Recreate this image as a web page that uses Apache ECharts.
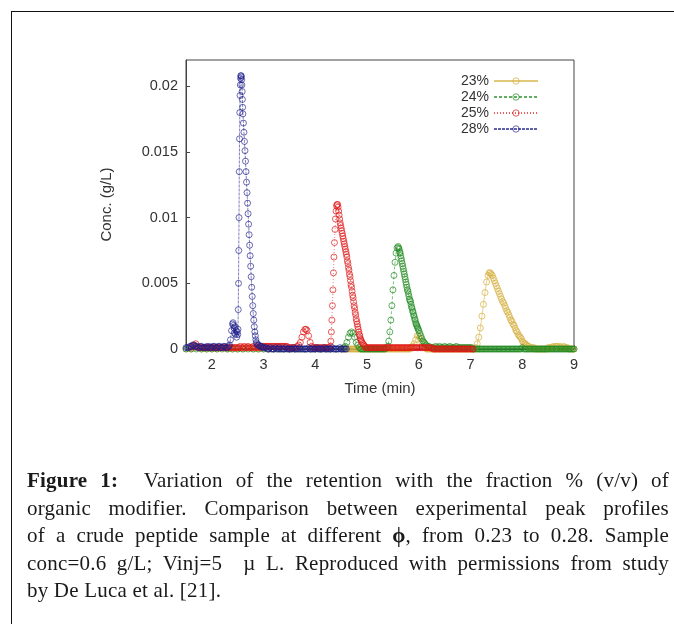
<!DOCTYPE html>
<html>
<head>
<meta charset="utf-8">
<script src="https://cdn.jsdelivr.net/npm/echarts@6/dist/echarts.min.js"></script>
<style>
  html, body { margin: 0; padding: 0; width: 674px; height: 624px; overflow: hidden; background: #fff; }
  #frame { position: absolute; left: 11px; top: 11px; width: 720px; height: 700px; border: 1.5px solid #111; box-sizing: border-box; }
  #chart { position: absolute; left: 0; top: 0; width: 674px; height: 624px; }
  #caption { position: absolute; left: 27px; top: 467px; width: 642px; font-family: "Liberation Serif", "DejaVu Serif", serif; font-size: 21px; line-height: 27.5px; color: #1a1a1a; letter-spacing: 0.2px; }
  #caption span { display: block; text-align: justify; text-align-last: justify; white-space: nowrap; }
  #caption span.last { text-align: left; text-align-last: left; }
</style>
</head>
<body>
<div id="frame"></div>
<div id="chart"></div>
<div id="caption">
  <span><b>Figure 1:</b>&nbsp; Variation of the retention with the fraction % (v/v) of</span>
  <span>organic modifier. Comparison between experimental peak profiles</span>
  <span>of a crude peptide sample at different <b>ϕ</b>, from 0.23 to 0.28. Sample</span>
  <span>conc=0.6 g/L; Vinj=5 &nbsp;µ L. Reproduced with permissions from study</span>
  <span class="last">by De Luca et al. [21].</span>
</div>
<script>
const seriesNames = ['23%', '24%', '25%', '28%'];
const xTicks = [2, 3, 4, 5, 6, 7, 8, 9];
const yTicks = [0, 0.005, 0.01, 0.015, 0.02];

// [time (min), conc (g/L)]
const conc23 = [
[1.5,0],[1.6,0],[1.7,0.0001],[1.8,0],[1.9,0],[2.0,0],[2.1,0],[2.2,0.0001],[2.3,0],[2.4,0],[2.5,0],[2.6,0],[2.7,0.0001],[2.8,0],[2.9,0],[3.0,0],[3.1,0],[3.2,0],[3.3,0],[3.4,0],[3.5,0],[3.6,0],[3.7,0],[3.8,0],[3.9,0],[4.0,0],[4.1,0],[4.2,0],[4.3,0],[4.4,0],[4.5,0],
[4.550,0],[4.575,0],[4.600,0],[4.625,0],[4.650,0],[4.675,0],[4.700,0],[4.725,0],[4.750,0],[4.775,0],
[4.800,0],[4.825,0],[4.850,0],[4.875,0],[4.900,0],[4.925,0],[4.950,0],[4.975,0],[5.000,0],[5.025,0],
[5.050,0],[5.075,0],[5.100,0],[5.125,0],[5.150,0],[5.175,0],[5.200,0],[5.225,0],[5.250,0],[5.275,0],
[5.300,0],[5.325,0],[5.350,0],[5.375,0],[5.400,0],[5.425,0],[5.450,0],[5.475,0],[5.500,0],[5.525,0],
[5.550,0],[5.575,0],[5.600,0],[5.625,0],[5.650,0],[5.675,0],[5.700,0],[5.725,0],[5.750,0],[5.775,0],
[5.800,0],[5.825,0],[5.850,0.0001],
[5.88,0.0002],[5.91,0.0004],[5.94,0.0007],[5.97,0.0010],[6.00,0.0010],[6.03,0.0008],[6.06,0.0005],[6.09,0.0002],[6.12,0.0001],
[6.150,0],[6.175,0],[6.200,0],[6.225,0],[6.250,0],[6.275,0],[6.300,0],[6.325,0],[6.350,0],[6.375,0],
[6.400,0],[6.425,0],[6.450,0],[6.475,0],[6.500,0],[6.525,0],[6.550,0],[6.575,0],[6.600,0],[6.625,0],
[6.650,0],[6.675,0],[6.700,0],[6.725,0],[6.750,0],[6.775,0],[6.800,0],[6.825,0],[6.850,0],[6.875,0],
[6.900,0],[6.925,0],[6.950,0],[6.975,0],[7.000,0],[7.025,0],[7.050,0],[7.075,0],
[7.10,0.0001],[7.13,0.0004],[7.16,0.0009],[7.19,0.0016],[7.22,0.0025],[7.25,0.0034],[7.28,0.0043],[7.31,0.0051],[7.34,0.0056],[7.36,0.0058],[7.38,0.0058],
[7.40,0.0057],[7.42,0.0056],[7.44,0.0054],[7.46,0.0052],[7.48,0.0050],[7.50,0.0048],[7.52,0.0046],[7.54,0.0044],[7.56,0.0042],[7.58,0.0040],[7.60,0.0038],[7.62,0.0036],[7.64,0.0035],[7.66,0.0033],[7.68,0.0031],[7.70,0.0029],[7.72,0.0028],[7.74,0.0026],[7.76,0.0024],[7.78,0.0022],[7.80,0.0021],[7.82,0.0019],[7.84,0.0018],[7.86,0.0016],[7.88,0.0014],[7.90,0.0013],[7.92,0.0011],[7.94,0.0010],[7.96,0.0009],[7.98,0.0008],[8.00,0.0006],[8.02,0.0005],[8.04,0.0004],[8.06,0.0004],[8.08,0.0003],[8.10,0.0002],[8.13,0.0002],[8.16,0.0001],[8.20,0.0001],
[8.225,0.0001],[8.250,0],[8.275,0],[8.300,0],[8.325,0],[8.350,0],[8.375,0],[8.400,0],[8.425,0],[8.450,0],
[8.475,0],[8.500,0.0001],[8.525,0.0001],[8.550,0.0001],[8.575,0.0001],[8.600,0.0002],[8.625,0.0001],[8.650,0.0002],[8.675,0.0002],[8.700,0.0001],
[8.725,0.0002],[8.750,0.0001],[8.775,0.0001],[8.800,0.0002],[8.825,0.0001],[8.850,0.0001],[8.875,0.0001],[8.900,0],[8.925,0],[8.950,0],
[8.975,0],[9.000,0]
];

const conc24 = [
[1.5,0],[1.6,0],[1.7,0],[1.8,0],[1.9,0],[2.0,0],[2.1,0],[2.2,0],[2.3,0],[2.4,0],[2.5,0],[2.6,0],[2.7,0],[2.8,0],[2.9,0],[3.0,0],[3.1,0],[3.2,0],[3.3,0],[3.4,0],[3.5,0],[3.6,0],[3.7,0],[3.8,0],[3.9,0],[4.0,0],[4.1,0],[4.2,0],[4.3,0],[4.4,0],[4.5,0],[4.55,0.0001],
[4.58,0.0002],[4.61,0.0005],[4.64,0.0009],[4.67,0.0012],[4.70,0.0013],[4.73,0.0012],[4.76,0.0009],[4.79,0.0005],[4.82,0.0003],[4.85,0.0001],
[4.875,0],[4.900,0],[4.925,0],[4.950,0],[4.975,0],[5.000,0],[5.025,0],[5.050,0],[5.075,0],[5.100,0],[5.125,0],[5.150,0],[5.175,0],[5.200,0],[5.225,0],[5.250,0],[5.275,0],[5.300,0],[5.325,0],[5.350,0],[5.375,0.0001],
[5.40,0.0002],[5.42,0.0006],[5.44,0.0013],[5.46,0.0022],[5.48,0.0033],[5.50,0.0045],[5.52,0.0056],[5.54,0.0066],[5.56,0.0073],[5.58,0.0077],[5.60,0.0078],[5.61,0.0077],[5.62,0.0076],
[5.63,0.0074],[5.64,0.0073],[5.65,0.0071],[5.66,0.0069],[5.67,0.0067],[5.68,0.0065],[5.69,0.0063],[5.70,0.0061],[5.71,0.0059],[5.72,0.0057],[5.73,0.0055],[5.74,0.0053],[5.75,0.0051],[5.76,0.0049],[5.77,0.0047],[5.78,0.0045],[5.79,0.0044],[5.80,0.0042],[5.81,0.0040],[5.82,0.0038],[5.83,0.0037],[5.84,0.0036],[5.85,0.0034],[5.86,0.0032],[5.87,0.0031],[5.88,0.0029],[5.89,0.0028],[5.90,0.0026],[5.91,0.0025],[5.92,0.0023],[5.93,0.0022],[5.94,0.0020],[5.95,0.0019],[5.96,0.0018],[5.97,0.0017],[5.98,0.0016],[5.99,0.0015],[6.00,0.0014],[6.02,0.0012],[6.04,0.0010],[6.06,0.0008],[6.08,0.0006],[6.10,0.0005],[6.12,0.0004],[6.14,0.0003],[6.17,0.0002],[6.20,0.0002],[6.24,0.0001],
[6.275,0.0001],[6.300,0.0001],[6.325,0.0002],[6.350,0.0001],[6.375,0.0001],[6.400,0.0002],[6.425,0.0001],[6.450,0.0001],[6.475,0.0001],[6.500,0.0002],
[6.525,0.0001],[6.550,0.0001],[6.575,0.0001],[6.600,0.0002],[6.625,0.0001],[6.650,0.0001],[6.675,0.0001],[6.700,0.0001],[6.725,0.0002],[6.750,0.0001],
[6.775,0.0001],[6.800,0.0001],[6.825,0.0001],[6.850,0.0001],[6.875,0.0001],[6.900,0.0001],[6.925,0.0001],[6.950,0.0001],[6.975,0.0001],[7.000,0.0001],
[7.025,0.0001],[7.050,0],[7.075,0],[7.100,0],[7.125,0],[7.150,0],[7.175,0],[7.200,0],[7.225,0],[7.250,0],
[7.275,0],[7.300,0],[7.325,0],[7.350,0],[7.375,0],[7.400,0],[7.425,0],[7.450,0],[7.475,0],[7.500,0],
[7.525,0],[7.550,0],[7.575,0],[7.600,0],[7.625,0],[7.650,0],[7.675,0],[7.700,0],[7.725,0],[7.750,0],
[7.775,0],[7.800,0],[7.825,0],[7.850,0],[7.875,0],[7.900,0],[7.925,0],[7.950,0],[7.975,0],[8.000,0.0001],
[8.025,0],[8.050,0],[8.075,0],[8.100,0],[8.125,0],[8.150,0],[8.175,0],[8.200,0],[8.225,0],[8.250,0],
[8.275,0],[8.300,0],[8.325,0],[8.350,0],[8.375,0],[8.400,0],[8.425,0],[8.450,0],[8.475,0],[8.500,0],
[8.525,0],[8.550,0],[8.575,0],[8.600,0],[8.625,0],[8.650,0],[8.675,0],[8.700,0],[8.725,0],[8.750,0],
[8.775,0],[8.800,0],[8.825,0],[8.850,0],[8.875,0],[8.900,0],[8.925,0],[8.950,0],[8.975,0],[9.000,0]
];

const conc25 = [
[1.60,0.0001],[1.63,0.0002],[1.66,0.0003],[1.69,0.0004],[1.72,0.0002],[1.75,0.0001],
[1.775,0.0001],[1.800,0.0001],[1.825,0.0001],[1.850,0.0001],[1.875,0.0001],[1.900,0.0001],[1.925,0.0001],[1.950,0.0001],[1.975,0.0001],[2.000,0.0001],
[2.025,0.0001],[2.050,0.0001],[2.075,0.0001],[2.100,0.0001],[2.125,0.0001],[2.150,0.0001],[2.175,0.0001],[2.200,0.0001],[2.225,0.0001],[2.250,0.0001],
[2.275,0.0001],[2.300,0.0001],[2.325,0.0001],[2.350,0.0001],[2.375,0.0001],[2.400,0.0001],[2.425,0.0001],[2.450,0.0001],[2.475,0.0001],[2.500,0.0001],
[2.525,0.0001],[2.550,0.0002],[2.575,0.0001],[2.600,0.0001],[2.625,0.0002],[2.650,0.0001],[2.675,0.0001],[2.700,0.0002],[2.725,0.0001],[2.750,0.0001],
[2.775,0.0001],[2.800,0.0002],[2.825,0.0001],[2.850,0.0001],[2.875,0.0002],[2.900,0.0001],[2.925,0.0001],[2.950,0.0002],[2.975,0.0002],[3.000,0.0002],
[3.025,0.0002],[3.050,0.0002],[3.075,0.0002],[3.100,0.0002],[3.125,0.0002],[3.150,0.0002],[3.175,0.0002],[3.200,0.0002],[3.225,0.0002],[3.250,0.0002],
[3.275,0.0002],[3.300,0.0002],[3.325,0.0002],[3.350,0.0002],[3.375,0.0002],[3.400,0.0002],[3.425,0.0002],[3.450,0.0002],[3.475,0.0001],[3.500,0.0001],
[3.525,0.0001],[3.550,0.0001],[3.575,0.0001],[3.600,0.0001],[3.625,0.0001],[3.650,0.0002],
[3.68,0.0003],[3.71,0.0005],[3.74,0.0009],[3.77,0.0013],[3.80,0.0015],[3.82,0.0015],[3.84,0.0014],[3.87,0.0010],[3.90,0.0005],[3.93,0.0002],[3.95,0.0001],
[3.975,0.0001],[4.000,0.0001],[4.025,0.0001],[4.050,0.0001],[4.075,0.0001],[4.100,0.0001],[4.125,0.0001],[4.150,0.0001],[4.175,0.0001],[4.200,0.0001],[4.225,0.0001],[4.250,0.0001],[4.275,0.0001],
[4.29,0.0002],[4.30,0.0006],[4.31,0.0013],[4.32,0.0022],[4.33,0.0033],[4.34,0.0045],[4.35,0.0058],[4.36,0.0070],[4.37,0.0081],[4.38,0.0091],[4.39,0.0099],[4.40,0.0105],[4.41,0.0109],[4.42,0.0110],[4.43,0.0110],[4.44,0.0108],[4.45,0.0105],[4.46,0.0102],[4.47,0.0099],[4.48,0.0096],[4.49,0.0094],[4.50,0.0092],[4.51,0.0090],[4.52,0.0088],[4.53,0.0086],[4.54,0.0084],[4.55,0.0082],[4.56,0.0080],[4.57,0.0078],[4.58,0.0076],[4.59,0.0074],[4.60,0.0072],[4.61,0.0070],[4.62,0.0067],[4.63,0.0065],[4.64,0.0062],[4.65,0.0060],[4.66,0.0057],[4.67,0.0055],[4.68,0.0052],[4.69,0.0049],[4.70,0.0047],[4.71,0.0044],[4.72,0.0041],[4.73,0.0039],[4.74,0.0036],[4.75,0.0033],[4.76,0.0031],[4.77,0.0028],[4.78,0.0026],[4.79,0.0023],[4.80,0.0021],[4.81,0.0019],[4.82,0.0017],[4.83,0.0015],[4.84,0.0013],[4.85,0.0011],[4.86,0.0010],[4.87,0.0008],[4.88,0.0007],[4.89,0.0006],[4.90,0.0005],[4.92,0.0004],[4.94,0.0003],[4.96,0.0002],[4.98,0.0001],
[5.000,0.0001],[5.025,0.0001],[5.050,0.0001],[5.075,0.0001],[5.100,0.0001],[5.125,0.0001],[5.150,0.0001],[5.175,0.0001],[5.200,0.0001],[5.225,0.0001],
[5.250,0.0001],[5.275,0.0001],[5.300,0.0001],[5.325,0.0001],[5.350,0.0001],[5.375,0.0001],[5.400,0.0001],[5.425,0.0001],[5.450,0.0001],[5.475,0.0001],
[5.500,0.0001],[5.525,0.0001],[5.550,0.0001],[5.575,0.0001],[5.600,0.0001],[5.625,0.0001],[5.650,0.0001],[5.675,0.0001],[5.700,0.0001],[5.725,0.0001],
[5.750,0.0001],[5.775,0.0001],[5.800,0.0001],[5.825,0.0001],[5.850,0.0001],[5.875,0.0001],[5.900,0.0001],[5.925,0.0001],[5.950,0.0001],[5.975,0.0001],
[6.000,0.0001],[6.025,0.0001],[6.050,0.0001],[6.075,0.0001],[6.100,0.0001],[6.125,0.0001],[6.150,0.0001],[6.175,0.0001],[6.200,0.0001],[6.225,0.0001],
[6.250,0.0001],[6.275,0],[6.300,0],[6.325,0],[6.350,0],[6.375,0],[6.400,0],[6.425,0],[6.450,0],[6.475,0],
[6.500,0],[6.525,0],[6.550,0],[6.575,0],[6.600,0],[6.625,0],[6.650,0],[6.675,0],[6.700,0],[6.725,0],
[6.750,0],[6.775,0],[6.800,0],[6.825,0],[6.850,0],[6.875,0],[6.900,0],[6.925,0],[6.950,0],[6.975,0],
[7.000,0],[7.025,0],[7.050,0]
];

const conc28 = [
[1.500,0.0001],[1.525,0.0001],[1.550,0.0001],[1.575,0.0002],[1.600,0.0002],[1.625,0.0003],[1.650,0.0003],[1.675,0.0002],[1.700,0.0002],[1.725,0.0001],
[1.750,0.0001],[1.775,0.0002],[1.800,0.0002],[1.825,0.0001],[1.850,0.0001],[1.875,0.0001],[1.900,0.0002],[1.925,0.0001],[1.950,0.0002],[1.975,0.0001],
[2.000,0.0001],[2.025,0.0002],[2.050,0.0002],[2.075,0.0001],[2.100,0.0001],[2.125,0.0002],[2.150,0.0002],[2.175,0.0001],[2.200,0.0001],[2.225,0.0002],
[2.250,0.0002],[2.275,0.0001],[2.300,0.0001],[2.325,0.0002],[2.340,0.0003],
[2.36,0.0007],[2.38,0.0014],[2.40,0.0019],[2.41,0.0020],[2.42,0.0018],[2.43,0.0016],[2.44,0.0012],[2.45,0.0017],[2.46,0.0011],[2.47,0.0014],[2.48,0.0009],[2.49,0.0013],[2.50,0.0011],
[2.505,0.0015],[2.510,0.0030],[2.515,0.0050],[2.520,0.0075],[2.525,0.0100],[2.530,0.0135],[2.535,0.0160],[2.540,0.0180],[2.545,0.0193],[2.550,0.0201],[2.555,0.0206],[2.560,0.0208],[2.565,0.0208],[2.570,0.0207],[2.575,0.0205],[2.580,0.0201],[2.585,0.0196],[2.590,0.0190],[2.595,0.0184],
[2.60,0.0179],[2.61,0.0172],[2.62,0.0165],[2.63,0.0158],[2.64,0.0151],[2.65,0.0143],[2.66,0.0135],[2.67,0.0127],[2.68,0.0119],[2.69,0.0111],[2.70,0.0103],[2.71,0.0095],[2.72,0.0087],[2.73,0.0079],[2.74,0.0071],[2.75,0.0063],[2.76,0.0055],[2.77,0.0047],[2.78,0.0040],[2.79,0.0033],[2.80,0.0027],[2.81,0.0022],[2.82,0.0017],[2.83,0.0013],[2.84,0.0010],[2.85,0.0007],[2.86,0.0005],[2.87,0.0004],[2.89,0.0003],[2.91,0.0003],[2.93,0.0002],[2.96,0.0002],[2.98,0.0001],
[3.000,0.0001],[3.025,0.0001],[3.050,0.0001],[3.075,0],[3.100,0],[3.125,0.0001],[3.150,0],[3.175,0],[3.200,0],[3.225,0.0001],
[3.250,0],[3.275,0],[3.300,0.0001],[3.325,0],[3.350,0],[3.375,0],[3.400,0],[3.425,0.0001],[3.450,0],[3.475,0],
[3.500,0],[3.525,0],[3.550,0],[3.575,0.0001],[3.600,0],[3.625,0],[3.650,0],[3.675,0],[3.700,0.0001],[3.725,0],
[3.750,0],[3.775,0],[3.800,0],[3.825,0],[3.850,0],[3.875,0.0001],[3.900,0],[3.925,0],[3.950,0],[3.975,0],
[4.000,0],[4.025,0.0001],[4.050,0],[4.075,0],[4.100,0],[4.125,0],[4.150,0],[4.175,0.0001],[4.200,0],[4.225,0],
[4.250,0],[4.275,0],[4.300,0],[4.325,0.0001],[4.350,0],[4.375,0],[4.400,0],[4.425,0],[4.450,0],[4.475,0.0001],
[4.500,0],[4.525,0],[4.550,0],[4.575,0],[4.600,0]
];

const colors = ['#d6b040', '#1f8a1f', '#e01515', '#1c1c88'];
const markerColors = ['rgba(214,176,64,0.75)', 'rgba(31,138,31,0.7)', 'rgba(224,21,21,0.7)', 'rgba(28,28,136,0.65)'];
const lineTypes = ['solid', [3, 2], [1, 2], [3, 1]];
const allData = [conc23, conc24, conc25, conc28];

const FONT = '"Liberation Sans", Arial, sans-serif';
const chart = echarts.init(document.getElementById('chart'), null, { renderer: 'canvas' });

const series = seriesNames.map((name, i) => ({
  name: name,
  type: 'line',
  data: allData[i],
  symbol: 'circle',
  symbolSize: 6,
  showAllSymbol: true,
  clip: true,
  itemStyle: { color: 'rgba(255,255,255,0)', borderColor: markerColors[i], borderWidth: 1 },
  lineStyle: { color: colors[i], width: 0.8, type: lineTypes[i], opacity: 0.7 },
  emphasis: { disabled: true },
  z: 2 + i
}));

chart.setOption({
  animation: false,
  backgroundColor: 'transparent',
  textStyle: { fontFamily: FONT },
  grid: { left: 186, right: 100, top: 60, bottom: 275, show: true, borderColor: '#444', borderWidth: 1, backgroundColor: 'transparent' },
  legend: {
    data: seriesNames,
    orient: 'vertical',
    left: 456,
    top: 69,
    align: 'right',
    itemWidth: 44,
    itemHeight: 8,
    itemGap: 2,
    textStyle: { fontSize: 14, color: '#333', fontFamily: FONT },
    itemStyle: { borderWidth: 1 }
  },
  xAxis: {
    type: 'value',
    min: 1.5,
    max: 9,
    name: 'Time (min)',
    nameLocation: 'middle',
    nameGap: 32,
    nameTextStyle: { fontSize: 15, color: '#333', fontFamily: FONT },
    axisLine: { show: true, lineStyle: { color: '#444', width: 1 } },
    axisTick: { show: true, inside: true, length: 4, customValues: xTicks, lineStyle: { color: '#444' } },
    axisLabel: { customValues: xTicks, fontSize: 14.5, color: '#333', margin: 8, fontFamily: FONT },
    splitLine: { show: false }
  },
  yAxis: {
    type: 'value',
    min: 0,
    max: 0.022,
    name: 'Conc. (g/L)',
    nameLocation: 'middle',
    nameGap: 72,
    nameRotate: 90,
    nameTextStyle: { fontSize: 15, color: '#333', fontFamily: FONT },
    axisLine: { show: true, lineStyle: { color: '#444', width: 1 } },
    axisTick: { show: true, inside: true, length: 4, customValues: yTicks, lineStyle: { color: '#444' } },
    axisLabel: { customValues: yTicks, fontSize: 14.5, color: '#333', margin: 8, fontFamily: FONT },
    splitLine: { show: false }
  },
  series: series
});
</script>
</body>
</html>
